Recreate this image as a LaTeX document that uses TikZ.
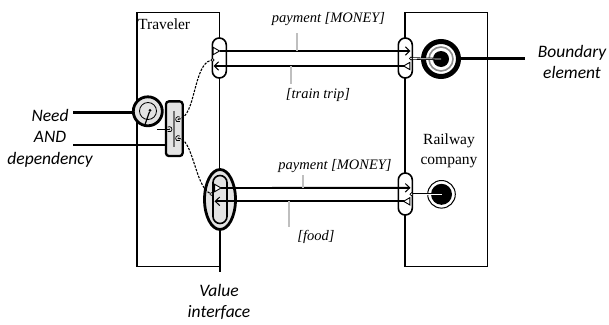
\documentclass[tikz,border=0pt]{standalone}
\usepackage{fontspec}
\setmainfont{Liberation Serif}
\newfontfamily\calib{Carlito}
\usetikzlibrary{arrows.meta,shapes.geometric}

\begin{document}
\begin{tikzpicture}[x=1pt,y=-1pt,
  every node/.style={inner sep=0pt, outer sep=0pt},
  actor/.style={draw, line width=1.3pt, minimum width=82.4pt, minimum height=253.8pt},
  iface/.style={draw, line width=1.6pt, fill=white, rounded corners=7pt, minimum width=14pt},
  greyfill/.style={fill=black!11},
  xline/.style={line width=1.9pt},
  inport/.style={-{Straight Barb[length=4.5pt,width=8.5pt,line width=1pt]}},
  outport/.style={draw, line width=0.9pt, fill=white, regular polygon, regular polygon sides=3, minimum size=8.5pt},
  tick/.style={draw=black!25, line width=1.4pt},
  xlabel/.style={font=\fontsize{14.5}{16}\selectfont\itshape},
  leader/.style={line width=2.4pt},
  note/.style={font=\calib\fontsize{17.5}{21.5}\selectfont\itshape, align=center},
  dep/.style={line width=1.1pt, dash pattern=on 2.4pt off 1.3pt},
  pdot/.style={circle, draw, fill=white, line width=0.6pt, minimum size=3pt},
]
\useasboundingbox (0,0) rectangle (609,324);

% actors
\node[actor] (trav) at (178.2,139.6) {};
\node[actor] (rail) at (446.2,139.6) {};
\node[font=\fontsize{15.5}{18}\selectfont, anchor=base west] (travname) at (138.2,29.3) {Traveler};
\node[font=\fontsize{15.5}{20}\selectfont, align=center] (railname) at (449,151) {Railway\\company};

% value interfaces
\node[iface, minimum height=40pt] (ti1) at (219.3,58) {};
\node[iface, minimum height=40pt] (ri1) at (405.3,58) {};
\node[iface, minimum height=42pt] (ri2) at (405.3,194) {};
\node[ellipse, draw, line width=2.8pt, greyfill, minimum width=31pt, minimum height=60pt] (tve) at (220,199.5) {};
\node[iface, greyfill, minimum height=48pt] (ti2) at (220,199.5) {};

% boundary elements
\node[circle, draw, line width=5pt, minimum size=35pt] (bnd1) at (441,59) {};
\node[circle, draw=black!45, line width=1.6pt, minimum size=24pt] (bnd1ring) at (441,59) {};
\node[circle, fill=black, minimum size=16pt] (bnd1core) at (441,59) {};
\node[circle, draw, line width=1pt, minimum size=27.6pt] (bnd2) at (441.5,194.3) {};
\node[circle, fill=black, minimum size=21pt] (bnd2core) at (441.5,194.3) {};

% value ports
\node[outport, shape border rotate=-90] (to1) at (215.3,51) {};
\node[outport, shape border rotate=90] (ro1) at (407.8,66) {};
\node[outport, shape border rotate=-90] (to2) at (216.8,188) {};
\node[outport, shape border rotate=90] (ro2) at (407.8,201.3) {};
\coordinate (ri1in) at (410.5,51);
\coordinate (ti1in) at (213.5,66);
\coordinate (ri2in) at (410.5,187.8);
\coordinate (ti2in) at (214.5,201.3);

% value exchanges
\draw[xline, inport] (to1.corner 1) -- (ri1in);
\draw[xline, inport] (ro1.corner 1) -- (ti1in);
\draw[xline, inport] (to2.corner 1) -- (ri2in);
\draw[xline, inport] (ro2.corner 1) -- (ti2in);

% exchange labels
\node[xlabel] (lpay1) at (328.5,19) {payment [MONEY]};
\node[xlabel] (ltrip) at (318,95) {[train trip]};
\node[xlabel] (lpay2) at (335,166) {payment [MONEY]};
\node[xlabel] (lfood) at (316,237) {[food]};
\coordinate (k1a) at (297,33); \coordinate (k1b) at (297,51);
\coordinate (k2a) at (291,66); \coordinate (k2b) at (291,84);
\coordinate (k3a) at (303,175); \coordinate (k3b) at (303,187.5);
\coordinate (k4a) at (289,201.3); \coordinate (k4b) at (289,227);
\draw[tick] (k1a) -- (k1b);
\draw[tick] (k2a) -- (k2b);
\draw[tick] (k3a) -- (k3b);
\draw[tick] (k4a) -- (k4b);

% connections to the boundary elements
\node[pdot] (rp1) at (411,58.5) {};
\node[pdot] (rp2) at (411.5,194.3) {};
\draw[line width=0.8pt, double=white, double distance=0.7pt] (rp1) -- (bnd1.center);
\draw[line width=0.8pt, double=white, double distance=0.7pt] (rp2) -- (bnd2.center);
\node[pdot] at (rp1) {};
\node[pdot] at (rp2) {};

% start stimulus
\node[circle, draw, line width=2.8pt, greyfill, minimum size=29pt] (need) at (147.8,111.3) {};
\node[circle, draw, line width=0.8pt, minimum size=17pt] (needin) at (148,111) {};
\node[circle, fill, minimum size=3pt] (needdot) at (150,110.3) {};
\coordinate (needtail) at (145,124.5);
\draw[line width=1.2pt] (needdot) -- (needtail);

% AND fork
\node[draw, line width=2.3pt, greyfill, rounded corners=3pt, minimum width=16.7pt, minimum height=54.7pt] (andf) at (174.3,128.7) {};
\coordinate (bartop) at (174,110.5); \coordinate (barbot) at (174,147);
\draw[black!55, line width=1.6pt] (bartop) -- (barbot);
\coordinate (andin) at (169.3,129.3);
\coordinate (andout1) at (178.3,119.3);
\coordinate (andout2) at (178.3,138.3);
\draw[line width=0.7pt] (andin) ++(-1.6,-2.2) arc[start angle=-126, end angle=126, radius=2.7];
\draw[line width=0.7pt] (andout1) ++(1.6,-2.2) arc[start angle=-54, end angle=-306, radius=2.7];
\draw[line width=0.7pt] (andout2) ++(1.6,-2.2) arc[start angle=-54, end angle=-306, radius=2.7];
\fill (andin) circle[radius=0.8];
\fill (andout1) circle[radius=0.8];
\fill (andout2) circle[radius=0.8];
\coordinate (needout) at (157,129.3);
\draw[line width=1.2pt] (needout) -- (andin);

% dependency paths
\node[pdot] (tdep1) at (212.6,60) {};
\node[pdot] (tdep2) at (211.2,194) {};
\draw[dep] (andout1) .. controls (196,118) and (193,64) .. (tdep1);
\draw[dep] (andout2) .. controls (193,138) and (195,186) .. (tdep2);

% annotations
\node[note] (nneed) at (50,138) {Need\\AND\\dependency};
\coordinate (nl1) at (73,112.3);
\coordinate (nl2) at (73,145);
\draw[leader] (nl1) -- (nl1 -| need.west);
\draw[leader] (nl2) -- (nl2 -| andf.west);
\node[note] (nbnd) at (572,62) {Boundary\\element};
\coordinate (bl) at (525,58.5);
\draw[leader] (bnd1.east |- bl) -- (bl);
\node[note] (nvif) at (219,302) {Value\\interface};
\coordinate (vl) at (220,272);
\draw[leader] (tve.south) -- (vl);
\end{tikzpicture}
\end{document}
